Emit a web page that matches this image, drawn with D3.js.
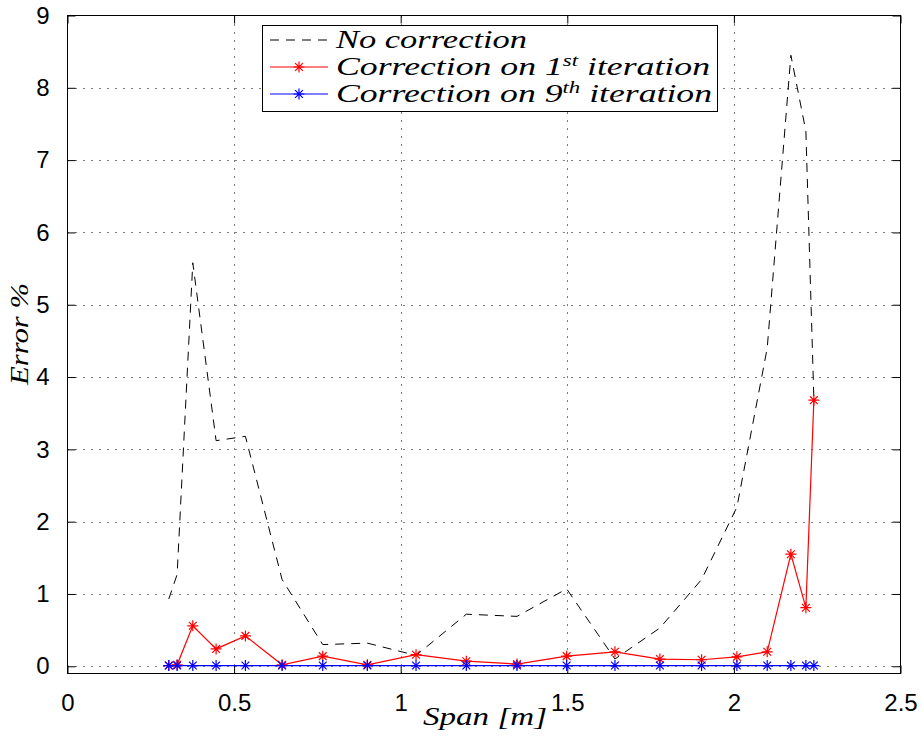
<!DOCTYPE html>
<html>
<head>
<meta charset="utf-8">
<script src="https://cdn.jsdelivr.net/npm/d3@7"></script>
<style>
  html, body { margin: 0; padding: 0; background: #fff; }
  svg { display: block; }
</style>
</head>
<body>
<svg id="chart" width="922" height="748"></svg>
<script>
// ---- data ----
const spanX = [0.304, 0.329, 0.376, 0.446, 0.534, 0.644, 0.766, 0.900, 1.046, 1.197,
               1.349, 1.498, 1.643, 1.778, 1.903, 2.009, 2.100, 2.171, 2.216, 2.240];
const noCorrection = [0.93, 1.27, 5.58, 3.12, 3.18, 1.20, 0.30, 0.32, 0.15, 0.72,
                      0.69, 1.07, 0.10, 0.53, 1.20, 2.20, 4.40, 8.45, 7.40, 3.70];
const correction1 = [0.01, 0.02, 0.56, 0.24, 0.42, 0.02, 0.14, 0.02, 0.16, 0.07,
                     0.03, 0.14, 0.20, 0.10, 0.09, 0.13, 0.20, 1.55, 0.81, 3.68];
const correction9 = [0.01, 0.01, 0.01, 0.01, 0.01, 0.01, 0.01, 0.01, 0.01, 0.01,
                     0.01, 0.01, 0.01, 0.01, 0.01, 0.01, 0.01, 0.01, 0.01, 0.01];
const xTicks = [0, 0.5, 1, 1.5, 2, 2.5];
const xTickLabels = ["0", "0.5", "1", "1.5", "2", "2.5"];
const yTicks = [0, 1, 2, 3, 4, 5, 6, 7, 8, 9];
const legendLabels = [
  {main: "No correction", sup: null, tail: null},
  {main: "Correction on 1", sup: "st", tail: " iteration"},
  {main: "Correction on 9", sup: "th", tail: " iteration"}
];

// ---- layout ----
const L = 67.5, R = 900.5, T = 15.5, B = 673.5;
const x = d3.scaleLinear().domain([0, 2.5]).range([L, R]);
const y = d3.scaleLinear().domain([-0.1, 9]).range([B, T]);
const svg = d3.select("#chart");
const tickFont = "'Liberation Sans', Arial, Helvetica, sans-serif";
const texFont = "'Liberation Serif', 'Times New Roman', serif";

// grid
const grid = svg.append("g").attr("stroke", "#000").attr("stroke-width", 1)
  .attr("stroke-dasharray", "1,7").attr("fill", "none");
xTicks.filter(t => t > 0 && t < 2.5).forEach(t => {
  grid.append("line").attr("x1", Math.round(x(t)) + 0.5).attr("x2", Math.round(x(t)) + 0.5)
    .attr("y1", B).attr("y2", T);
});
yTicks.filter(t => t < 9).forEach(t => {
  grid.append("line").attr("y1", Math.round(y(t)) + 0.5).attr("y2", Math.round(y(t)) + 0.5)
    .attr("x1", L).attr("x2", R);
});

// axes via d3 axis generators (inward ticks)
const xAxisB = d3.axisBottom(x).tickValues(xTicks).tickFormat((d, i) => xTickLabels[i])
  .tickSizeInner(-8).tickSizeOuter(0).tickPadding(20);
const gxb = svg.append("g").attr("transform", `translate(0,${B})`).call(xAxisB);
gxb.select(".domain").remove();
gxb.selectAll("text").attr("font-family", tickFont).attr("font-size", 24).attr("fill", "#000")
  .attr("dy", "0.71em");
const xAxisT = d3.axisTop(x).tickValues(xTicks).tickFormat("").tickSizeInner(-8).tickSizeOuter(0);
const gxt = svg.append("g").attr("transform", `translate(0,${T})`).call(xAxisT);
gxt.select(".domain").remove();

const yAxisL = d3.axisLeft(y).tickValues(yTicks).tickFormat(d3.format("d"))
  .tickSizeInner(-8).tickSizeOuter(0).tickPadding(18);
const gyl = svg.append("g").attr("transform", `translate(${L},0)`).call(yAxisL);
gyl.select(".domain").remove();
gyl.selectAll("text").attr("font-family", tickFont).attr("font-size", 24).attr("fill", "#000");
const yAxisR = d3.axisRight(y).tickValues(yTicks).tickFormat("").tickSizeInner(-8).tickSizeOuter(0);
const gyr = svg.append("g").attr("transform", `translate(${R},0)`).call(yAxisR);
gyr.select(".domain").remove();
svg.selectAll(".tick line").attr("stroke", "#000").attr("stroke-width", 1);

// frame
svg.append("rect").attr("x", L).attr("y", T).attr("width", R - L).attr("height", B - T)
  .attr("fill", "none").attr("stroke", "#000").attr("stroke-width", 1);

// lines
const idx = d3.range(spanX.length);
const lineOf = arr => d3.line().x(i => x(spanX[i])).y(i => y(arr[i]));

svg.append("path").datum(idx).attr("d", lineOf(noCorrection))
  .attr("fill", "none").attr("stroke", "#000").attr("stroke-width", 1)
  .attr("stroke-dasharray", "9,7");

function asterisk(g, cx, cy, color, r) {
  const p = d3.path();
  for (let k = 0; k < 4; k++) {
    const a = k * Math.PI / 4;
    p.moveTo(cx - r * Math.cos(a), cy - r * Math.sin(a));
    p.lineTo(cx + r * Math.cos(a), cy + r * Math.sin(a));
  }
  g.append("path").attr("d", p.toString()).attr("stroke", color).attr("stroke-width", 1.2).attr("fill", "none");
}

const series = [
  {vals: correction1, color: "#ff0000"},
  {vals: correction9, color: "#0000ff"}
];
series.forEach(s => {
  svg.append("path").datum(idx).attr("d", lineOf(s.vals))
    .attr("fill", "none").attr("stroke", s.color).attr("stroke-width", 1.2);
  const g = svg.append("g");
  idx.forEach(i => asterisk(g, x(spanX[i]), y(s.vals[i]), s.color, 5.5));
});

// legend
const lg = svg.append("g");
lg.append("rect").attr("x", 262.5).attr("y", 25.5).attr("width", 455).attr("height", 86)
  .attr("fill", "#fff").attr("stroke", "#000").attr("stroke-width", 1);
const rowY = [40, 67, 94];
const lStyles = [
  {color: "#000", dash: "9,7", marker: false},
  {color: "#ff0000", dash: null, marker: true},
  {color: "#0000ff", dash: null, marker: true}
];
const textEnds = [527, 710, 712];
legendLabels.forEach((lab, i) => {
  const st = lStyles[i];
  const ln = lg.append("line").attr("x1", 270).attr("x2", 328).attr("y1", rowY[i]).attr("y2", rowY[i])
    .attr("stroke", st.color).attr("stroke-width", st.marker ? 1.2 : 1);
  if (st.dash) ln.attr("stroke-dasharray", st.dash);
  if (st.marker) asterisk(lg, 299, rowY[i], st.color, 5.5);
  const t = lg.append("text").attr("x", 336).attr("y", rowY[i] + 8)
    .attr("font-family", texFont).attr("font-style", "italic").attr("font-size", 25).attr("fill", "#000")
    .attr("textLength", textEnds[i] - 336).attr("lengthAdjust", "spacingAndGlyphs");
  t.append("tspan").text(lab.main);
  if (lab.sup) {
    t.append("tspan").attr("font-size", 16).attr("dy", -9).text(lab.sup);
    t.append("tspan").attr("dy", 9).text(lab.tail);
  }
});

// axis titles
svg.append("text").attr("x", 485).attr("y", 725).attr("text-anchor", "middle")
  .attr("font-family", texFont).attr("font-style", "italic").attr("font-size", 26)
  .attr("textLength", 124).attr("lengthAdjust", "spacingAndGlyphs").text("Span [m]");
svg.append("text").attr("transform", "translate(28,334) rotate(-90)").attr("text-anchor", "middle")
  .attr("font-family", texFont).attr("font-style", "italic").attr("font-size", 26)
  .attr("textLength", 102).attr("lengthAdjust", "spacingAndGlyphs").text("Error %");
</script>
</body>
</html>
